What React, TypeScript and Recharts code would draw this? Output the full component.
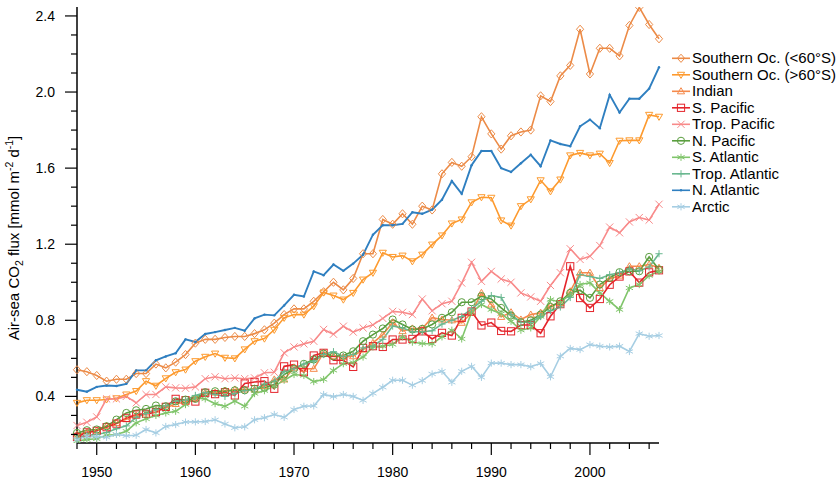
import React from "react";
import { LineChart, Line, XAxis, YAxis } from "recharts";

// Annual air-sea CO2 flux per ocean basin, 1948-2007
const years = [
  1948, 1949, 1950, 1951, 1952, 1953, 1954, 1955, 1956, 1957, 1958, 1959, 1960, 1961, 1962,
  1963, 1964, 1965, 1966, 1967, 1968, 1969, 1970, 1971, 1972, 1973, 1974, 1975, 1976, 1977,
  1978, 1979, 1980, 1981, 1982, 1983, 1984, 1985, 1986, 1987, 1988, 1989, 1990, 1991, 1992,
  1993, 1994, 1995, 1996, 1997, 1998, 1999, 2000, 2001, 2002, 2003, 2004, 2005, 2006, 2007,
];

const southernSouthOf60 = [
  0.54, 0.53, 0.51, 0.48, 0.49, 0.49, 0.52, 0.52, 0.57, 0.55, 0.58, 0.62, 0.68, 0.7, 0.7,
  0.71, 0.715, 0.715, 0.73, 0.75, 0.785, 0.83, 0.86, 0.86, 0.9, 0.95, 1.0, 0.96, 1.02, 1.15,
  1.15, 1.33, 1.305, 1.36, 1.305, 1.4, 1.38, 1.57, 1.63, 1.61, 1.66, 1.87, 1.78, 1.7, 1.77,
  1.79, 1.8, 1.98, 1.95, 2.085, 2.14, 2.33, 2.095, 2.23, 2.23, 2.19, 2.35, 2.445, 2.355, 2.28,
];
const southernNorthOf60 = [
  0.366, 0.38, 0.38, 0.384, 0.39, 0.41, 0.428, 0.48, 0.456, 0.495, 0.527, 0.541, 0.585, 0.608, 0.625,
  0.603, 0.6, 0.647, 0.69, 0.704, 0.75, 0.813, 0.83, 0.83, 0.874, 0.946, 0.93, 0.909, 0.944, 1.014,
  1.05, 1.155, 1.133, 1.14, 1.11, 1.145, 1.198, 1.246, 1.309, 1.33, 1.42, 1.447, 1.444, 1.325, 1.298,
  1.4, 1.436, 1.536, 1.478, 1.54, 1.667, 1.68, 1.667, 1.676, 1.627, 1.744, 1.746, 1.746, 1.88, 1.87,
];
const indian = [
  0.2, 0.21, 0.22, 0.245, 0.26, 0.28, 0.3, 0.31, 0.33, 0.34, 0.36, 0.37, 0.39, 0.42, 0.42,
  0.43, 0.436, 0.436, 0.436, 0.454, 0.489, 0.489, 0.551, 0.545, 0.545, 0.629, 0.611, 0.608, 0.611, 0.646,
  0.681, 0.725, 0.788, 0.743, 0.757, 0.757, 0.814, 0.804, 0.8, 0.787, 0.839, 0.944, 0.883, 0.818, 0.842,
  0.804, 0.83, 0.84, 0.877, 0.89, 0.952, 1.05, 1.05, 0.97, 1.017, 1.035, 1.084, 1.084, 1.093, 1.076,
];
const southPacific = [
  0.187, 0.211, 0.219, 0.238, 0.257, 0.287, 0.305, 0.308, 0.317, 0.345, 0.387, 0.38, 0.373, 0.419, 0.412,
  0.422, 0.405, 0.468, 0.476, 0.48, 0.44, 0.558, 0.567, 0.527, 0.615, 0.629, 0.59, 0.59, 0.555, 0.655,
  0.664, 0.66, 0.699, 0.699, 0.702, 0.742, 0.702, 0.734, 0.72, 0.813, 0.846, 0.773, 0.788, 0.744, 0.742,
  0.775, 0.775, 0.732, 0.821, 0.885, 1.084, 0.917, 0.865, 0.912, 0.987, 1.03, 1.057, 0.998, 1.052, 1.063,
];
const tropPacific = [
  0.247, 0.264, 0.292, 0.387, 0.387, 0.4, 0.366, 0.41, 0.41, 0.45, 0.445, 0.443, 0.45, 0.493, 0.503,
  0.493, 0.497, 0.493, 0.497, 0.524, 0.527, 0.629, 0.66, 0.676, 0.69, 0.752, 0.727, 0.769, 0.738, 0.76,
  0.776, 0.81, 0.847, 0.842, 0.83, 0.912, 0.85, 0.887, 0.9, 0.996, 1.105, 1.005, 1.057, 1.017, 1.0,
  0.944, 0.923, 0.9, 0.983, 1.05, 1.176, 1.12, 1.137, 1.193, 1.29, 1.26, 1.317, 1.34, 1.327, 1.41,
];
const northPacific = [
  0.208, 0.222, 0.226, 0.243, 0.278, 0.313, 0.327, 0.334, 0.352, 0.348, 0.374, 0.383, 0.387, 0.422, 0.427,
  0.427, 0.432, 0.432, 0.44, 0.445, 0.462, 0.515, 0.545, 0.571, 0.594, 0.625, 0.611, 0.615, 0.637, 0.69,
  0.725, 0.757, 0.804, 0.778, 0.752, 0.755, 0.778, 0.813, 0.842, 0.895, 0.895, 0.927, 0.912, 0.865, 0.825,
  0.79, 0.8, 0.83, 0.87, 0.9, 0.944, 0.958, 0.918, 0.988, 1.023, 1.053, 1.058, 1.058, 1.133, 1.067,
];
const southAtlantic = [
  0.165, 0.173, 0.177, 0.196, 0.2, 0.217, 0.261, 0.282, 0.3, 0.313, 0.322, 0.357, 0.392, 0.387, 0.362,
  0.348, 0.375, 0.348, 0.415, 0.43, 0.454, 0.485, 0.515, 0.51, 0.478, 0.489, 0.537, 0.572, 0.578, 0.607,
  0.66, 0.664, 0.673, 0.713, 0.685, 0.678, 0.676, 0.713, 0.748, 0.702, 0.842, 0.883, 0.856, 0.835, 0.795,
  0.748, 0.76, 0.82, 0.909, 0.895, 0.935, 0.988, 0.997, 0.944, 0.9, 0.856, 0.97, 0.988, 1.035, 1.058,
];
const tropAtlantic = [
  0.18, 0.195, 0.2, 0.21, 0.23, 0.245, 0.29, 0.31, 0.33, 0.35, 0.375, 0.38, 0.405, 0.42, 0.41,
  0.4, 0.415, 0.43, 0.435, 0.465, 0.48, 0.53, 0.545, 0.57, 0.585, 0.62, 0.635, 0.61, 0.62, 0.655,
  0.665, 0.7, 0.77, 0.76, 0.74, 0.74, 0.745, 0.78, 0.8, 0.82, 0.86, 0.9, 0.93, 0.92, 0.83,
  0.79, 0.79, 0.82, 0.85, 0.87, 0.92, 1.04, 1.03, 1.02, 1.04, 1.05, 1.07, 1.06, 1.08, 1.15,
];
const northAtlantic = [
  0.435, 0.425, 0.45, 0.457, 0.455, 0.466, 0.537, 0.537, 0.59, 0.61, 0.627, 0.7, 0.686, 0.728, 0.738,
  0.749, 0.76, 0.745, 0.81, 0.83, 0.826, 0.878, 0.934, 0.925, 1.057, 1.037, 1.093, 1.06, 1.098, 1.145,
  1.25, 1.3, 1.3, 1.307, 1.368, 1.36, 1.382, 1.434, 1.532, 1.465, 1.615, 1.69, 1.69, 1.6, 1.58,
  1.626, 1.67, 1.61, 1.746, 1.727, 1.715, 1.82, 1.855, 1.81, 1.985, 1.892, 1.965, 1.965, 2.018, 2.13,
];
const arctic = [
  0.173, 0.19, 0.187, 0.185, 0.2, 0.193, 0.196, 0.226, 0.208, 0.242, 0.252, 0.265, 0.266, 0.268, 0.277,
  0.255, 0.235, 0.24, 0.277, 0.288, 0.305, 0.29, 0.331, 0.348, 0.35, 0.41, 0.399, 0.41, 0.4, 0.379,
  0.416, 0.448, 0.485, 0.485, 0.459, 0.483, 0.518, 0.532, 0.474, 0.532, 0.558, 0.5, 0.575, 0.575, 0.567,
  0.567, 0.556, 0.573, 0.503, 0.611, 0.652, 0.646, 0.672, 0.664, 0.66, 0.664, 0.636, 0.73, 0.716, 0.72,
];

const xTicks = [
  1948, 1950, 1952, 1954, 1956, 1958, 1960, 1962, 1964, 1966, 1968, 1970, 1972, 1974, 1976,
  1978, 1980, 1982, 1984, 1986, 1988, 1990, 1992, 1994, 1996, 1998, 2000, 2002, 2004, 2006,
];
const yTicks = [
  0.2, 0.3, 0.4, 0.5, 0.6, 0.7, 0.8, 0.9, 1.0, 1.1, 1.2, 1.3, 1.4, 1.5, 1.6, 1.7, 1.8, 1.9,
  2.0, 2.1, 2.2, 2.3, 2.4,
];

const FONT = '"Liberation Sans", Arial, Helvetica, sans-serif';

type Shape = "diamond" | "triDown" | "triUp" | "square" | "cross" | "circle" | "star" | "plus" | "dot";

const series: { key: string; name: string; color: string; shape: Shape; values: number[] }[] = [
  { key: "soSouth", name: "Southern Oc. (<60°S)", color: "#ec8b47", shape: "diamond", values: southernSouthOf60 },
  { key: "soNorth", name: "Southern Oc. (>60°S)", color: "#fd9a2e", shape: "triDown", values: southernNorthOf60 },
  { key: "indian", name: "Indian", color: "#f58a4c", shape: "triUp", values: indian },
  { key: "sPac", name: "S. Pacific", color: "#e4242b", shape: "square", values: southPacific },
  { key: "tPac", name: "Trop. Pacific", color: "#f88a8a", shape: "cross", values: tropPacific },
  { key: "nPac", name: "N. Pacific", color: "#5a9e3f", shape: "circle", values: northPacific },
  { key: "sAtl", name: "S. Atlantic", color: "#80c56b", shape: "star", values: southAtlantic },
  { key: "tAtl", name: "Trop. Atlantic", color: "#6ab890", shape: "plus", values: tropAtlantic },
  { key: "nAtl", name: "N. Atlantic", color: "#2f7fc0", shape: "dot", values: northAtlantic },
  { key: "arctic", name: "Arctic", color: "#a6cee3", shape: "star", values: arctic },
];

const data = years.map((year, i) => {
  const row: Record<string, number> = { year };
  series.forEach((s) => {
    row[s.key] = s.values[i];
  });
  return row;
});

function Marker({ shape, x, y, color }: { shape: Shape; x: number; y: number; color: string }) {
  const s = 3.6;
  const p = { fill: "none", stroke: color, strokeWidth: 1 };
  switch (shape) {
    case "diamond":
      return <polygon {...p} points={`${x},${y - s - 0.5} ${x + s},${y} ${x},${y + s + 0.5} ${x - s},${y}`} />;
    case "triDown":
      return <polygon {...p} points={`${x - s},${y - s * 0.7} ${x + s},${y - s * 0.7} ${x},${y + s}`} />;
    case "triUp":
      return <polygon {...p} points={`${x - s},${y + s * 0.7} ${x + s},${y + s * 0.7} ${x},${y - s}`} />;
    case "square":
      return <rect {...p} x={x - s} y={y - s} width={s * 2} height={s * 2} />;
    case "cross":
      return <path {...p} d={`M${x - s},${y - s}L${x + s},${y + s}M${x - s},${y + s}L${x + s},${y - s}`} />;
    case "circle":
      return <circle {...p} cx={x} cy={y} r={s} />;
    case "star":
      return (
        <path
          {...p}
          d={`M${x},${y - s}L${x},${y + s}M${x - s},${y - s * 0.5}L${x + s},${y + s * 0.5}M${x - s},${y + s * 0.5}L${x + s},${y - s * 0.5}`}
        />
      );
    case "plus":
      return <path {...p} d={`M${x - s},${y}L${x + s},${y}M${x},${y - s}L${x},${y + s}`} />;
    default:
      return <circle cx={x} cy={y} r={1.2} fill={color} />;
  }
}

function XTick(props: any) {
  const { x, y, payload } = props;
  const major = payload.value % 10 === 0;
  return (
    <g>
      <line x1={x} x2={x} y1={y} y2={y + (major ? 12 : 6)} stroke="#000" strokeWidth={1.2} />
      {major && (
        <text x={x} y={y + 34} textAnchor="middle" fontSize={14} fontFamily={FONT} fill="#000">
          {payload.value}
        </text>
      )}
    </g>
  );
}

function YTick(props: any) {
  const { x, y, payload } = props;
  const major = Math.round(payload.value * 10) % 4 === 0;
  return (
    <g>
      <line x1={x - (major ? 12 : 6)} x2={x} y1={y} y2={y} stroke="#000" strokeWidth={1.2} />
      {major && (
        <text x={x - 22} y={y + 5} textAnchor="end" fontSize={14} fontFamily={FONT} fill="#000">
          {payload.value.toFixed(1)}
        </text>
      )}
    </g>
  );
}

export default function App() {
  return (
    <div style={{ position: "absolute", left: 0, top: 0, width: 839, height: 479, background: "#fff" }}>
      <LineChart width={839} height={479} data={data} margin={{ top: 7, right: 180, bottom: 0, left: 0 }}>
        <XAxis
          dataKey="year"
          type="number"
          domain={[1948, 2007]}
          ticks={xTicks}
          interval={0}
          height={36}
          tickSize={0}
          tickMargin={0}
          tick={<XTick />}
          axisLine={{ stroke: "#000", strokeWidth: 1.5 }}
        />
        <YAxis
          type="number"
          domain={[0.155, 2.447]}
          allowDataOverflow
          ticks={yTicks}
          interval={0}
          width={77}
          tickSize={0}
          tickMargin={0}
          tick={<YTick />}
          axisLine={{ stroke: "#000", strokeWidth: 1.5 }}
        />
        {series.map((s) => (
          <Line
            key={s.key}
            type="linear"
            dataKey={s.key}
            name={s.name}
            stroke={s.color}
            strokeWidth={s.key === "nAtl" ? 1.9 : 1.6}
            dot={(d: any) => <Marker key={`${s.key}-${d.index}`} shape={s.shape} x={d.cx} y={d.cy} color={s.color} />}
            activeDot={false}
            isAnimationActive={false}
          />
        ))}
      </LineChart>

      <svg
        width={839}
        height={479}
        style={{ position: "absolute", left: 0, top: 0, pointerEvents: "none" }}
        fontFamily={FONT}
      >
        {/* y-axis title with sub/superscripts */}
        <text transform="translate(19,238) rotate(-90)" textAnchor="middle" fontSize={15} fill="#000">
          Air-sea CO
          <tspan fontSize={10.5} dy={4}>2</tspan>
          <tspan dy={-4}> flux [mmol m</tspan>
          <tspan fontSize={10.5} dy={-6}>-2</tspan>
          <tspan dy={6}> d</tspan>
          <tspan fontSize={10.5} dy={-6}>-1</tspan>
          <tspan dy={6}>]</tspan>
        </text>

        {/* legend */}
        {series.map((s, i) => {
          const y = 58.3 + i * 16.5;
          return (
            <g key={s.key}>
              <line x1={672} x2={690} y1={y} y2={y} stroke={s.color} strokeWidth={1.6} />
              <Marker shape={s.shape} x={681} y={y} color={s.color} />
              <text x={692} y={y + 5} fontSize={15} fill="#000">
                {s.name}
              </text>
            </g>
          );
        })}
      </svg>
    </div>
  );
}
